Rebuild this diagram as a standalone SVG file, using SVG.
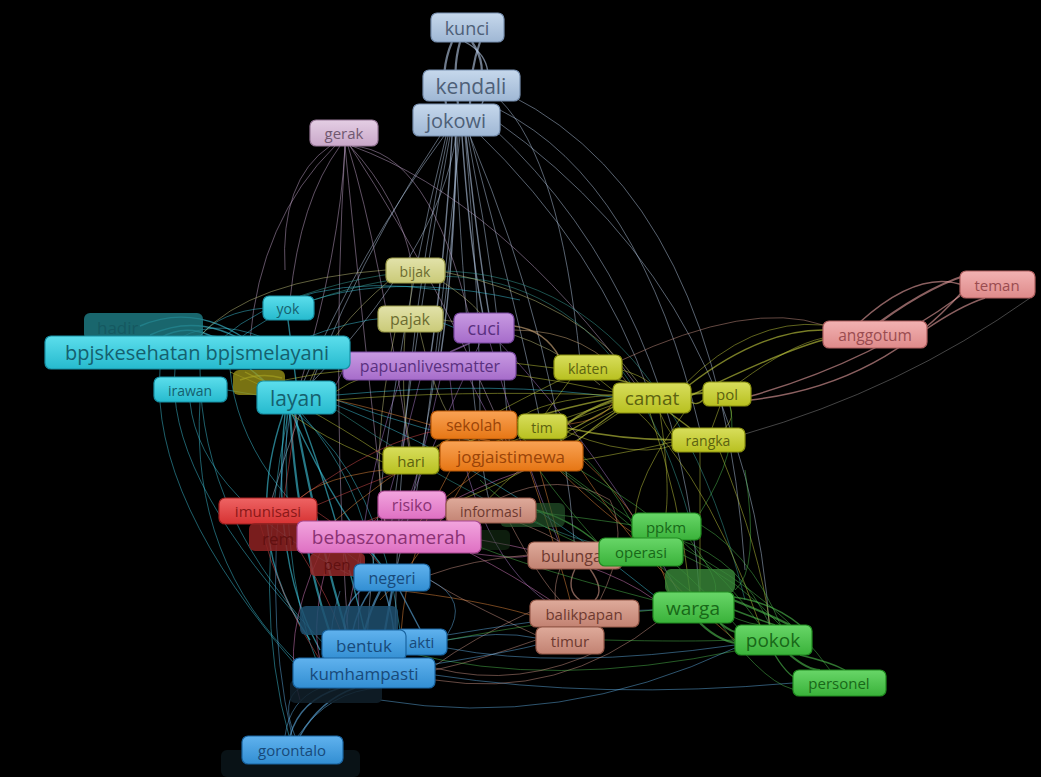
<svg xmlns="http://www.w3.org/2000/svg" width="1041" height="777" viewBox="0 0 1041 777">
<defs>
<linearGradient id="g-steel" x1="0" y1="0" x2="0" y2="1"><stop offset="0" stop-color="#c6d8ec"/><stop offset="1" stop-color="#9fb7d4"/></linearGradient>
<linearGradient id="g-lilac" x1="0" y1="0" x2="0" y2="1"><stop offset="0" stop-color="#e4cee4"/><stop offset="1" stop-color="#c9a7c9"/></linearGradient>
<linearGradient id="g-khaki" x1="0" y1="0" x2="0" y2="1"><stop offset="0" stop-color="#e2e2aa"/><stop offset="1" stop-color="#caca78"/></linearGradient>
<linearGradient id="g-purple" x1="0" y1="0" x2="0" y2="1"><stop offset="0" stop-color="#c89ae2"/><stop offset="1" stop-color="#a66cca"/></linearGradient>
<linearGradient id="g-cyan" x1="0" y1="0" x2="0" y2="1"><stop offset="0" stop-color="#5cdeec"/><stop offset="1" stop-color="#26bace"/></linearGradient>
<linearGradient id="g-ygreen" x1="0" y1="0" x2="0" y2="1"><stop offset="0" stop-color="#d8de5c"/><stop offset="1" stop-color="#b8c020"/></linearGradient>
<linearGradient id="g-pink" x1="0" y1="0" x2="0" y2="1"><stop offset="0" stop-color="#f2b2b2"/><stop offset="1" stop-color="#de8a8a"/></linearGradient>
<linearGradient id="g-orange" x1="0" y1="0" x2="0" y2="1"><stop offset="0" stop-color="#f9a254"/><stop offset="1" stop-color="#e67614"/></linearGradient>
<linearGradient id="g-magenta" x1="0" y1="0" x2="0" y2="1"><stop offset="0" stop-color="#f2a4de"/><stop offset="1" stop-color="#de70c2"/></linearGradient>
<linearGradient id="g-rosy" x1="0" y1="0" x2="0" y2="1"><stop offset="0" stop-color="#deaa9a"/><stop offset="1" stop-color="#c28272"/></linearGradient>
<linearGradient id="g-red" x1="0" y1="0" x2="0" y2="1"><stop offset="0" stop-color="#ee6464"/><stop offset="1" stop-color="#d63232"/></linearGradient>
<linearGradient id="g-blue" x1="0" y1="0" x2="0" y2="1"><stop offset="0" stop-color="#60b2ee"/><stop offset="1" stop-color="#328ed2"/></linearGradient>
<linearGradient id="g-green" x1="0" y1="0" x2="0" y2="1"><stop offset="0" stop-color="#68d668"/><stop offset="1" stop-color="#3ab23a"/></linearGradient>
</defs>
<style>
.node rect{stroke-width:1.2}
.node text{font-family:"Open Sans","DejaVu Sans",sans-serif;text-anchor:middle;dominant-baseline:central}
.steel rect{fill:url(#g-steel);stroke:#7890b0}.steel text{fill:#4e6078}
.lilac rect{fill:url(#g-lilac);stroke:#987898}.lilac text{fill:#705870}
.khaki rect{fill:url(#g-khaki);stroke:#9a9a48}.khaki text{fill:#6c6c30}
.purple rect{fill:url(#g-purple);stroke:#7848a0}.purple text{fill:#5a3080}
.cyan rect{fill:url(#g-cyan);stroke:#1890a4}.cyan text{fill:#15606e}
.ygreen rect{fill:url(#g-ygreen);stroke:#8a9010}.ygreen text{fill:#5c6210}
.pink rect{fill:url(#g-pink);stroke:#b06060}.pink text{fill:#9a4c50}
.orange rect{fill:url(#g-orange);stroke:#b85808}.orange text{fill:#9a4408}
.magenta rect{fill:url(#g-magenta);stroke:#a84890}.magenta text{fill:#8a3274}
.rosy rect{fill:url(#g-rosy);stroke:#945848}.rosy text{fill:#6e3a30}
.red rect{fill:url(#g-red);stroke:#a02020}.red text{fill:#8a1818}
.blue rect{fill:url(#g-blue);stroke:#1a64a0}.blue text{fill:#184a7a}
.green rect{fill:url(#g-green);stroke:#208a20}.green text{fill:#186818}
.faded rect{stroke:none}
#connectors path{fill:none;stroke-width:0.8;stroke-opacity:0.6}
.e-steel{stroke:#b8cce8}
.e-lilac{stroke:#c8a8d0}
.e-cyan{stroke:#40c8e0}
.e-teal{stroke:#3aa8a0}
.e-purple{stroke:#b080d0}
.e-khaki{stroke:#c8c880}
.e-yg{stroke:#c8d040}
.e-pink{stroke:#e8a0a0}
.e-orange{stroke:#f09040}
.e-red{stroke:#e05050}
.e-mag{stroke:#e080c8}
.e-rosy{stroke:#d09888}
.e-green{stroke:#50c050}
.e-blue{stroke:#60b0e8}
.e-tan{stroke:#d8b080}
.e-grey{stroke:#909090}
.thick{stroke-width:2.2 !important}
.mid{stroke-width:1.4 !important}
</style>
<rect width="1041" height="777" fill="#000"/>
<g id="connectors">
<path class="e-steel thick" d="M452,42 Q440,70 446,104"/>
<path class="e-steel thick" d="M460,42 Q452,70 458,104"/>
<path class="e-steel thick" d="M472,42 Q488,65 478,90"/>
<path class="e-steel thick" d="M480,42 Q470,70 470,104"/>
<path class="e-steel mid" d="M465,42 Q500,60 482,104"/>
<path class="e-steel" d="M456,136 Q440,250 300,395"/>
<path class="e-steel" d="M450,136 Q420,300 390,535"/>
<path class="e-steel" d="M458,136 Q450,350 395,575"/>
<path class="e-steel" d="M446,136 Q380,400 365,670"/>
<path class="e-steel mid" d="M462,136 Q470,250 484,320"/>
<path class="e-steel mid" d="M466,136 Q478,250 490,320"/>
<path class="e-steel mid" d="M452,136 Q445,260 430,360"/>
<path class="e-steel mid" d="M456,136 Q455,260 440,360"/>
<path class="e-steel" d="M465,136 Q480,300 480,420"/>
<path class="e-steel" d="M468,136 Q500,300 510,450"/>
<path class="e-steel" d="M475,130 Q600,250 650,395"/>
<path class="e-steel" d="M490,125 Q680,300 700,600"/>
<path class="e-steel" d="M495,120 Q750,300 770,635"/>
<path class="e-steel" d="M510,95 Q720,200 745,570"/>
<path class="e-steel" d="M460,136 Q430,420 415,500"/>
<path class="e-steel" d="M455,136 Q470,420 490,505"/>
<path class="e-steel" d="M440,136 Q330,300 270,505"/>
<path class="e-steel" d="M470,136 Q560,350 575,550"/>
<path class="e-steel" d="M500,100 Q560,160 580,360"/>
<path class="e-steel" d="M448,136 Q400,350 395,630"/>
<path class="e-steel" d="M444,136 Q360,250 300,390"/>
<path class="e-steel" d="M470,136 Q520,320 540,420"/>
<path class="e-steel" d="M500,110 Q640,180 700,430"/>
<path class="e-lilac" d="M345,146 Q340,250 300,385"/>
<path class="e-lilac" d="M345,146 Q360,300 385,525"/>
<path class="e-lilac" d="M348,146 Q380,250 410,455"/>
<path class="e-lilac" d="M352,146 Q430,150 470,320"/>
<path class="e-lilac" d="M352,146 Q500,200 640,390"/>
<path class="e-lilac" d="M340,146 Q300,200 290,300"/>
<path class="e-lilac" d="M345,146 Q330,400 350,660"/>
<path class="e-lilac" d="M350,146 Q450,300 510,450"/>
<path class="e-lilac" d="M335,146 Q260,220 250,340"/>
<path class="e-lilac" d="M330,146 Q280,180 285,270"/>
<path class="e-lilac" d="M350,146 Q400,200 412,265"/>
<path class="e-cyan thick" d="M290,414 Q300,560 340,660"/>
<path class="e-cyan thick" d="M295,414 Q320,550 355,660"/>
<path class="e-cyan mid" d="M300,414 Q340,520 370,655"/>
<path class="e-cyan mid" d="M285,414 Q270,560 320,650"/>
<path class="e-cyan mid" d="M292,414 Q330,500 385,570"/>
<path class="e-cyan" d="M288,414 Q250,600 290,740"/>
<path class="e-cyan" d="M298,414 Q380,480 400,630"/>
<path class="e-cyan" d="M287,414 Q280,600 330,690"/>
<path class="e-cyan mid" d="M283,414 Q240,540 310,640"/>
<path class="e-cyan" d="M302,414 Q360,480 375,570"/>
<path class="e-cyan mid" d="M250,369 Q270,385 275,392"/>
<path class="e-cyan" d="M160,369 Q150,500 300,670"/>
<path class="e-cyan" d="M200,369 Q200,520 330,650"/>
<path class="e-cyan" d="M230,369 Q240,480 370,570"/>
<path class="e-cyan" d="M175,369 Q165,470 300,620"/>
<path class="e-cyan" d="M227,390 L257,395"/>
<path class="e-cyan mid" d="M288,320 L296,381"/>
<path class="e-cyan" d="M265,308 Q220,312 200,336"/>
<path class="e-cyan mid" d="M140,326 Q200,300 260,350"/>
<path class="e-cyan mid" d="M150,335 Q200,312 250,345"/>
<path class="e-cyan mid" d="M160,338 Q195,318 232,350"/>
<path class="e-cyan" d="M170,345 Q210,322 250,352"/>
<path class="e-cyan" d="M180,338 Q220,315 280,345"/>
<path class="e-cyan" d="M220,340 Q300,270 440,290"/>
<path class="e-cyan" d="M240,338 Q340,260 520,300"/>
<path class="e-cyan" d="M336,400 Q420,430 510,450"/>
<path class="e-cyan" d="M336,395 Q500,380 620,398"/>
<path class="e-cyan" d="M336,405 Q500,470 660,600"/>
<path class="e-cyan" d="M300,340 Q400,300 460,330"/>
<path class="e-cyan" d="M190,402 Q200,500 360,580"/>
<path class="e-cyan" d="M200,402 Q190,560 300,665"/>
<path class="e-teal" d="M314,300 Q600,200 690,520"/>
<path class="e-teal" d="M300,296 Q640,180 745,600"/>
<path class="e-teal" d="M336,410 Q500,520 600,545"/>
<path class="e-purple mid" d="M470,343 L450,352"/>
<path class="e-purple" d="M480,343 Q430,450 400,525"/>
<path class="e-purple" d="M420,380 Q400,460 380,525"/>
<path class="e-purple" d="M400,380 Q350,520 360,660"/>
<path class="e-purple" d="M500,343 Q600,450 680,595"/>
<path class="e-purple" d="M343,370 L336,385"/>
<path class="e-purple" d="M470,380 Q490,420 505,445"/>
<path class="e-purple" d="M440,380 Q420,470 410,495"/>
<path class="e-purple" d="M450,380 Q470,560 560,610"/>
<path class="e-purple" d="M490,343 Q520,450 560,545"/>
<path class="e-tan mid" d="M514,326 Q545,330 560,358"/>
<path class="e-tan" d="M514,330 Q590,330 630,386"/>
<path class="e-khaki" d="M412,283 L410,306"/>
<path class="e-khaki" d="M390,280 Q330,330 310,381"/>
<path class="e-khaki" d="M440,280 Q470,300 480,313"/>
<path class="e-khaki" d="M445,272 Q580,300 640,385"/>
<path class="e-khaki" d="M405,332 Q400,400 410,447"/>
<path class="e-khaki" d="M420,332 Q440,420 470,441"/>
<path class="e-khaki" d="M395,332 Q370,450 385,521"/>
<path class="e-khaki" d="M386,270 Q250,280 200,336"/>
<path class="e-khaki" d="M443,320 Q540,330 600,385"/>
<path class="e-yg thick" d="M613,400 Q585,410 567,424"/>
<path class="e-yg mid" d="M615,406 Q585,422 567,432"/>
<path class="e-yg mid" d="M613,398 Q500,420 439,458"/>
<path class="e-yg" d="M615,404 Q520,440 439,465"/>
<path class="e-yg mid" d="M618,410 Q590,430 575,443"/>
<path class="e-yg" d="M613,395 Q540,400 517,420"/>
<path class="e-yg mid" d="M630,383 L612,378"/>
<path class="e-yg thick" d="M691,394 L703,393"/>
<path class="e-yg mid" d="M691,402 Q697,406 703,400"/>
<path class="e-yg mid" d="M688,386 Q760,330 823,330"/>
<path class="e-yg" d="M684,385 Q750,318 823,325"/>
<path class="e-yg mid" d="M690,396 Q780,352 823,340"/>
<path class="e-yg" d="M740,382 Q790,345 823,338"/>
<path class="e-yg mid" d="M670,413 L690,428"/>
<path class="e-yg" d="M660,413 Q672,440 680,440"/>
<path class="e-yg" d="M720,406 L712,428"/>
<path class="e-yg" d="M730,406 Q735,418 725,428"/>
<path class="e-yg" d="M650,413 Q680,500 690,592"/>
<path class="e-yg" d="M570,380 L545,414"/>
<path class="e-yg" d="M560,380 Q480,420 430,450"/>
<path class="e-yg" d="M622,370 Q640,375 650,383"/>
<path class="e-rosy" d="M622,360 Q750,300 823,325"/>
<path class="e-yg" d="M613,395 Q450,390 336,400"/>
<path class="e-yg" d="M615,410 Q500,470 470,525"/>
<path class="e-yg" d="M620,412 Q520,480 446,505"/>
<path class="e-yg" d="M600,380 Q700,450 760,625"/>
<path class="e-yg" d="M700,452 Q700,530 700,592"/>
<path class="e-yg" d="M720,452 Q760,550 770,625"/>
<path class="e-yg" d="M660,413 Q670,480 666,513"/>
<path class="e-yg" d="M383,455 Q300,400 230,372"/>
<path class="e-yg" d="M383,462 Q300,430 265,390"/>
<path class="e-yg" d="M613,392 Q420,350 285,380"/>
<path class="e-yg" d="M554,368 Q400,345 330,395"/>
<path class="e-yg mid" d="M567,428 Q620,440 680,440"/>
<path class="e-yg" d="M567,432 Q660,470 700,428"/>
<path class="e-yg" d="M583,460 Q640,450 672,442"/>
<path class="e-yg" d="M440,460 Q560,420 613,402"/>
<path class="e-yg mid" d="M245,372 Q260,380 280,388"/>
<path class="e-yg mid" d="M240,380 Q262,372 282,378"/>
<path class="e-yg" d="M684,413 Q620,500 640,538"/>
<path class="e-pink mid" d="M860,322 Q920,268 965,286"/>
<path class="e-pink thick" d="M880,322 Q935,282 978,272"/>
<path class="e-pink mid" d="M751,400 Q880,385 962,292"/>
<path class="e-pink mid" d="M751,396 Q870,362 960,296"/>
<path class="e-pink mid" d="M925,330 Q960,306 985,298"/>
<path class="e-grey" d="M745,434 Q900,390 1030,298"/>
<path class="e-orange mid" d="M480,439 L490,441"/>
<path class="e-orange" d="M480,471 Q440,500 420,521"/>
<path class="e-orange" d="M583,460 Q650,520 670,595"/>
<path class="e-orange" d="M450,471 Q400,560 400,660"/>
<path class="e-orange" d="M431,425 Q380,410 336,400"/>
<path class="e-orange" d="M440,465 Q330,470 300,498"/>
<path class="e-orange" d="M540,471 L560,542"/>
<path class="e-orange" d="M530,471 Q560,560 570,600"/>
<path class="e-orange" d="M395,590 Q480,600 530,615"/>
<path class="e-orange" d="M450,439 Q380,480 330,525"/>
<path class="e-orange" d="M517,425 Q600,430 613,402"/>
<path class="e-orange" d="M470,471 Q420,560 380,600"/>
<path class="e-orange" d="M580,468 Q640,560 735,640"/>
<path class="e-orange" d="M560,471 Q610,520 641,538"/>
<path class="e-red" d="M280,523 Q290,460 296,414"/>
<path class="e-red" d="M317,505 Q400,470 440,458"/>
<path class="e-red" d="M300,498 Q380,440 440,430"/>
<path class="e-red" d="M300,551 Q330,600 340,630"/>
<path class="e-red" d="M317,512 Q360,540 380,565"/>
<path class="e-red" d="M340,535 Q400,500 446,510"/>
<path class="e-red" d="M260,524 Q280,600 320,660"/>
<path class="e-red" d="M330,553 Q380,520 400,495"/>
<path class="e-mag" d="M330,553 Q310,620 320,660"/>
<path class="e-mag" d="M320,553 Q280,640 300,700"/>
<path class="e-mag" d="M481,540 Q600,560 655,600"/>
<path class="e-mag" d="M470,553 Q520,560 530,555"/>
<path class="e-mag" d="M420,519 Q500,470 583,456"/>
<path class="e-mag" d="M360,553 Q350,600 345,630"/>
<path class="e-mag" d="M470,553 Q560,600 600,640"/>
<path class="e-rosy mid" d="M575,569 Q565,590 580,600"/>
<path class="e-rosy mid" d="M590,569 Q605,590 595,600"/>
<path class="e-rosy" d="M560,569 Q548,600 565,627"/>
<path class="e-rosy" d="M520,523 Q550,535 560,542"/>
<path class="e-rosy" d="M510,523 Q540,580 560,600"/>
<path class="e-rosy" d="M536,640 Q480,660 435,670"/>
<path class="e-rosy" d="M530,612 Q470,640 436,665"/>
<path class="e-rosy" d="M536,635 Q460,600 430,580"/>
<path class="e-rosy" d="M528,555 Q470,560 430,575"/>
<path class="e-rosy" d="M500,498 Q560,470 610,500 Q630,540 600,600"/>
<path class="e-blue" d="M447,640 Q500,630 536,638"/>
<path class="e-blue" d="M447,648 Q560,670 735,645"/>
<path class="e-blue" d="M435,675 Q600,700 793,683"/>
<path class="e-rosy" d="M435,680 Q560,700 660,620"/>
<path class="e-blue" d="M447,635 Q600,610 653,610"/>
<path class="e-green" d="M406,652 Q550,690 740,650"/>
<path class="e-blue" d="M435,664 Q520,650 536,645"/>
<path class="e-rosy" d="M435,668 Q520,690 604,648"/>
<path class="e-blue" d="M380,700 Q560,730 735,648"/>
<path class="e-green thick" d="M720,623 Q740,640 752,628"/>
<path class="e-green thick" d="M700,623 Q730,652 760,640"/>
<path class="e-green thick" d="M715,593 Q760,610 790,625"/>
<path class="e-green mid" d="M734,610 Q760,620 775,625"/>
<path class="e-green mid" d="M725,596 Q770,600 800,625"/>
<path class="e-green thick" d="M790,655 Q808,670 820,670"/>
<path class="e-green mid" d="M775,655 Q790,680 805,682"/>
<path class="e-green mid" d="M800,655 Q830,662 845,670"/>
<path class="e-green" d="M720,623 Q770,690 800,690"/>
<path class="e-green" d="M660,566 Q720,620 760,625"/>
<path class="e-green" d="M683,555 Q740,580 780,625"/>
<path class="e-green" d="M680,540 Q740,560 770,625"/>
<path class="e-green" d="M690,540 Q720,580 715,592"/>
<path class="e-green" d="M653,600 Q500,560 440,530"/>
<path class="e-green" d="M653,610 Q550,620 447,640"/>
<path class="e-green" d="M600,545 Q560,500 540,471"/>
<path class="e-green" d="M580,470 Q700,540 760,625"/>
<path class="e-green" d="M560,470 Q680,560 740,630"/>
<path class="e-green" d="M604,640 Q690,642 735,640"/>
<path class="e-green" d="M599,552 Q520,520 480,480"/>
<path class="e-green" d="M632,520 Q560,470 500,420"/>
<path class="e-green" d="M700,513 Q740,450 730,406"/>
<path class="e-green" d="M701,525 Q760,560 790,650"/>
<path class="e-green" d="M683,548 Q780,600 830,670"/>
<path class="e-green" d="M735,590 Q760,570 745,470"/>
<path class="e-green" d="M640,538 Q600,460 560,440"/>
<path class="e-green mid" d="M510,505 Q560,510 600,545"/>
<path class="e-green" d="M520,510 Q600,520 632,525"/>
<path class="e-blue mid" d="M290,736 Q300,700 340,688"/>
<path class="e-blue mid" d="M300,736 Q320,700 355,688"/>
<path class="e-blue" d="M285,736 Q290,700 320,688"/>
<path class="e-blue" d="M295,736 Q280,700 300,688"/>
<path class="e-blue" d="M292,736 Q260,600 290,414"/>
<path class="e-blue" d="M298,736 Q330,690 380,688"/>
<path class="e-blue thick" d="M380,591 Q370,610 365,630"/>
<path class="e-blue thick" d="M392,591 L385,630"/>
<path class="e-blue mid" d="M400,591 Q410,610 420,629"/>
<path class="e-blue mid" d="M370,591 Q350,620 350,658"/>
<path class="e-blue mid" d="M360,591 Q340,610 345,630"/>
<path class="e-blue mid" d="M385,591 Q400,640 390,658"/>
<path class="e-blue" d="M340,591 Q330,620 330,658"/>
<path class="e-blue" d="M430,580 Q470,600 447,635"/>
</g>

<g id="n-kunci" class="node steel"><rect x="431" y="13" width="73" height="29" rx="6"/><text x="467" y="28" font-size="18">kunci</text></g>
<g id="n-kendali" class="node steel"><rect x="423" y="70" width="97" height="31" rx="6"/><text x="471" y="86" font-size="21">kendali</text></g>
<g id="n-jokowi" class="node steel"><rect x="413" y="104" width="87" height="32" rx="6"/><text x="456" y="120" font-size="20">jokowi</text></g>
<g id="n-gerak" class="node lilac"><rect x="310" y="120" width="68" height="26" rx="6"/><text x="344" y="133" font-size="15">gerak</text></g>
<g id="n-bijak" class="node khaki"><rect x="386" y="258" width="59" height="25" rx="6"/><text x="415" y="271" font-size="14">bijak</text></g>
<g id="n-pajak" class="node khaki"><rect x="378" y="306" width="65" height="26" rx="6"/><text x="410" y="319" font-size="16">pajak</text></g>
<g id="n-cuci" class="node purple"><rect x="454" y="313" width="60" height="30" rx="6"/><text x="484" y="328" font-size="18">cuci</text></g>
<g id="n-papuanlivesmatter" class="node purple"><rect x="343" y="352" width="173" height="28" rx="6"/><text x="430" y="366" font-size="16">papuanlivesmatter</text></g>
<g id="n-hadir" class="node faded"><rect x="84" y="313" width="119" height="27" rx="6" fill="#1f7f88" fill-opacity="0.8"/><text x="97" y="327" font-size="17" fill="#155860" style="text-anchor:start">hadir</text></g>
<g id="n-bpjs" class="node cyan"><rect x="45" y="336" width="305" height="33" rx="6"/><text x="197" y="352" font-size="20">bpjskesehatan bpjsmelayani</text></g>
<g id="n-yok" class="node cyan"><rect x="263" y="296" width="51" height="24" rx="6"/><text x="288" y="308" font-size="14">yok</text></g>
<g id="n-irawan" class="node cyan"><rect x="154" y="377" width="73" height="25" rx="6"/><text x="190" y="390" font-size="14">irawan</text></g>
<g id="n-olive" class="node faded"><rect x="233" y="370" width="52" height="25" rx="6" fill="#a09818" fill-opacity="0.75"/></g>
<g id="n-layan" class="node cyan"><rect x="257" y="381" width="79" height="33" rx="6"/><text x="296" y="398" font-size="21">layan</text></g>
<g id="n-klaten" class="node ygreen"><rect x="554" y="355" width="68" height="25" rx="6"/><text x="588" y="368" font-size="14">klaten</text></g>
<g id="n-camat" class="node ygreen"><rect x="613" y="383" width="78" height="30" rx="6"/><text x="652" y="398" font-size="19">camat</text></g>
<g id="n-pol" class="node ygreen"><rect x="703" y="382" width="48" height="24" rx="6"/><text x="727" y="394" font-size="15">pol</text></g>
<g id="n-rangka" class="node ygreen"><rect x="672" y="428" width="73" height="24" rx="6"/><text x="708" y="440" font-size="14">rangka</text></g>
<g id="n-anggotum" class="node pink"><rect x="823" y="321" width="104" height="27" rx="6"/><text x="875" y="335" font-size="15.5">anggotum</text></g>
<g id="n-teman" class="node pink"><rect x="960" y="271" width="75" height="27" rx="6"/><text x="997" y="285" font-size="15">teman</text></g>
<g id="n-sekolah" class="node orange"><rect x="431" y="411" width="86" height="28" rx="6"/><text x="474" y="425" font-size="15.5">sekolah</text></g>
<g id="n-tim" class="node ygreen"><rect x="518" y="414" width="49" height="25" rx="6"/><text x="542" y="427" font-size="14">tim</text></g>
<g id="n-hari" class="node ygreen"><rect x="383" y="447" width="56" height="27" rx="6"/><text x="411" y="461" font-size="15">hari</text></g>
<g id="n-jogjaistimewa" class="node orange"><rect x="440" y="441" width="143" height="30" rx="6"/><text x="511" y="456" font-size="17">jogjaistimewa</text></g>
<g id="n-fgreen" class="node faded"><rect x="500" y="503" width="65" height="24" rx="6" fill="#2a6030" fill-opacity="0.6"/></g>
<g id="n-risiko" class="node magenta"><rect x="378" y="491" width="68" height="28" rx="6"/><text x="412" y="505" font-size="16">risiko</text></g>
<g id="n-informasi" class="node rosy"><rect x="446" y="498" width="90" height="25" rx="6"/><text x="491" y="511" font-size="14">informasi</text></g>
<g id="n-imunisasi" class="node red"><rect x="219" y="498" width="98" height="26" rx="6"/><text x="268" y="511" font-size="15">imunisasi</text></g>
<g id="n-rem" class="node faded"><rect x="249" y="523" width="91" height="28" rx="6" fill="#8e2222" fill-opacity="0.85"/><text x="262" y="538" font-size="17" fill="#601010" style="text-anchor:start">rem</text></g>
<g id="n-fdark" class="node faded"><rect x="470" y="530" width="40" height="20" rx="5" fill="#1a3a1a" fill-opacity="0.5"/></g>
<g id="n-bebaszonamerah" class="node magenta"><rect x="297" y="521" width="184" height="32" rx="6"/><text x="389" y="537" font-size="19">bebaszonamerah</text></g>
<g id="n-pen" class="node faded"><rect x="310" y="553" width="55" height="23" rx="5" fill="#922828" fill-opacity="0.85"/><text x="337" y="564" font-size="15" fill="#601010">pen</text></g>
<g id="n-negeri" class="node blue"><rect x="354" y="564" width="76" height="27" rx="6"/><text x="392" y="578" font-size="16">negeri</text></g>
<g id="n-bulungan" class="node rosy"><rect x="528" y="542" width="94" height="27" rx="6"/><text x="541" y="556" font-size="16" style="text-anchor:start">bulunga</text></g>
<g id="n-ppkm" class="node green"><rect x="632" y="513" width="69" height="27" rx="6"/><text x="666" y="527" font-size="15">ppkm</text></g>
<g id="n-operasi" class="node green"><rect x="599" y="538" width="84" height="28" rx="6"/><text x="641" y="552" font-size="15">operasi</text></g>
<g id="n-utara" class="node faded"><rect x="665" y="569" width="70" height="24" rx="6" fill="#3a8a3a" fill-opacity="0.8"/></g>
<g id="n-warga" class="node green"><rect x="653" y="592" width="81" height="31" rx="6"/><text x="693" y="608" font-size="19">warga</text></g>
<g id="n-balikpapan" class="node rosy"><rect x="530" y="600" width="109" height="27" rx="6"/><text x="584" y="614" font-size="15">balikpapan</text></g>
<g id="n-timur" class="node rosy"><rect x="536" y="627" width="68" height="27" rx="6"/><text x="570" y="641" font-size="15">timur</text></g>
<g id="n-pokok" class="node green"><rect x="735" y="625" width="77" height="30" rx="6"/><text x="773" y="640" font-size="19">pokok</text></g>
<g id="n-personel" class="node green"><rect x="793" y="670" width="93" height="26" rx="6"/><text x="839" y="683" font-size="15">personel</text></g>
<g id="n-fblue" class="node faded"><rect x="300" y="606" width="98" height="29" rx="6" fill="#1e5070" fill-opacity="0.85"/></g>
<g id="n-akti" class="node blue"><rect x="396" y="629" width="51" height="26" rx="6"/><text x="409" y="642" font-size="15" style="text-anchor:start">akti</text></g>
<g id="n-bentuk" class="node blue"><rect x="322" y="630" width="84" height="30" rx="6"/><text x="364" y="645" font-size="17">bentuk</text></g>
<g id="n-fdark2" class="node faded"><rect x="290" y="680" width="92" height="23" rx="5" fill="#10202a" fill-opacity="0.85"/></g>
<g id="n-kumhampasti" class="node blue"><rect x="293" y="658" width="142" height="30" rx="6"/><text x="364" y="673" font-size="17">kumhampasti</text></g>
<g id="n-fdark3" class="node faded"><rect x="221" y="750" width="139" height="27" rx="6" fill="#0a1418" fill-opacity="0.9"/></g>
<g id="n-gorontalo" class="node blue"><rect x="242" y="736" width="101" height="28" rx="6"/><text x="292" y="750" font-size="15">gorontalo</text></g>
</svg>
